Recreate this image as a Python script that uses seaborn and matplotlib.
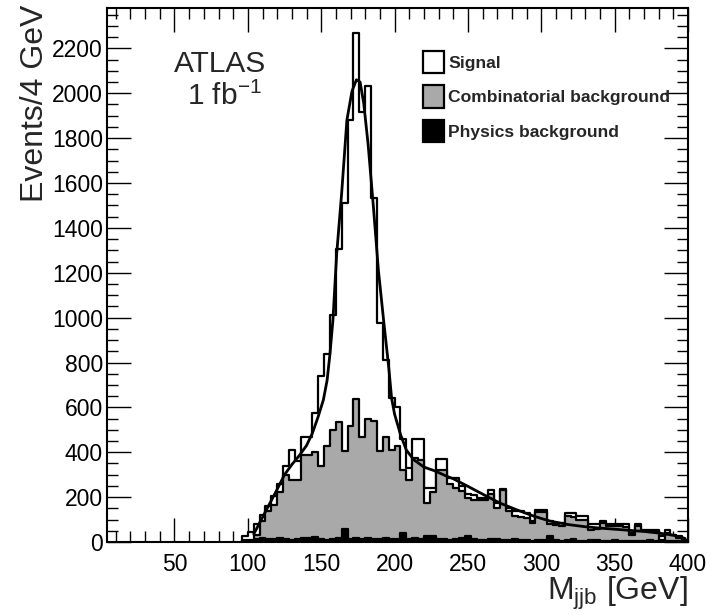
import numpy as np
import pandas as pd
import matplotlib
matplotlib.use("Agg")
import matplotlib.pyplot as plt
from matplotlib.patches import Patch
from matplotlib.ticker import MultipleLocator
import seaborn as sns

# ---------------- data ----------------
bin_edges = list(range(96, 401, 4))  # 4 GeV bins, 96..400

# total = signal + combinatorial + physics (top outline)
total = [25, 45, 80, 120, 160, 205, 260, 340, 410, 360, 470, 470, 575, 740, 840, 1012,
         1305, 1510, 1881, 2270, 1918, 2032, 1532, 975, 812, 640, 600, 458, 329, 458, 458, 241,
         240, 370, 370, 285, 285, 248, 215, 210, 195, 195, 233, 173, 236, 151, 137, 137,
         130, 93, 144, 144, 93, 85, 85, 129, 129, 115, 115, 78, 78, 93, 78, 78,
         78, 78, 38, 78, 55, 55, 55, 28, 52, 33, 25, 10]

# combinatorial + physics background (grey outline)
background = [8, 10, 30, 95, 140, 165, 225, 300, 277, 277, 389, 389, 399, 337, 430, 500,
              537, 404, 515, 637, 470, 548, 540, 404, 470, 411, 426, 321, 277, 375, 367, 173,
              225, 321, 321, 260, 241, 226, 195, 189, 189, 189, 215, 150, 230, 137, 115, 110,
              108, 85, 135, 135, 78, 75, 72, 115, 110, 100, 100, 55, 60, 85, 70, 72,
              70, 65, 33, 70, 50, 48, 50, 10, 40, 30, 20, 8]

# physics background (black)
physics = [0, 3, 12, 20, 15, 12, 18, 15, 10, 15, 20, 18, 22, 12, 10, 15,
           20, 58, 15, 20, 12, 18, 15, 12, 20, 15, 15, 40, 15, 20, 12, 25,
           25, 15, 12, 10, 12, 20, 28, 12, 8, 10, 12, 15, 10, 8, 12, 8,
           10, 6, 8, 10, 25, 8, 6, 10, 12, 6, 5, 8, 10, 6, 5, 8,
           5, 6, 4, 6, 5, 8, 4, 5, 3, 4, 3, 2]

# fit curve
fit_mass = [104, 108, 112, 116, 120, 125, 130, 135, 140, 144, 148, 151.5, 154, 156, 158,
            160.5, 164, 167.5, 171, 174, 176.5, 179, 182, 185.5, 189, 192.5, 196, 198,
            200, 204, 208, 213, 220, 227, 236, 240, 250, 261, 272, 283, 295, 306, 318,
            330, 340, 350, 360, 370, 380, 390, 398]
fit_events = [35, 85, 135, 185, 235, 300, 345, 385, 430, 485, 560, 634, 720, 840, 990,
              1280, 1560, 1880, 2010, 2060, 2050, 1955, 1770, 1500, 1210, 990, 780, 640,
              570, 480, 410, 367, 334, 318, 292, 282, 248, 210, 173, 144, 115, 93, 78,
              68, 62, 57, 52, 47, 40, 30, 16]

x_ticks = [50, 100, 150, 200, 250, 300, 350, 400]
y_ticks = list(range(0, 2201, 200))

legend_labels = ["Signal", "Combinatorial background", "Physics background"]

# ---------------- build table ----------------
centers = [(a + b) / 2 for a, b in zip(bin_edges[:-1], bin_edges[1:])]
df = pd.DataFrame({"mass": centers, "total": total, "bkg": background, "phys": physics})
fit_df = pd.DataFrame({"mass": fit_mass, "events": fit_events})

# ---------------- style ----------------
sns.set_theme(style="ticks")
plt.rcParams["font.family"] = ["Liberation Sans", "DejaVu Sans"]
plt.rcParams["mathtext.fontset"] = "custom"
plt.rcParams["mathtext.rm"] = "Liberation Sans"
plt.rcParams["mathtext.it"] = "Liberation Sans:italic"
plt.rcParams["mathtext.bf"] = "Liberation Sans:bold"

W, H = 719, 615
fig = plt.figure(figsize=(W / 100, H / 100), dpi=100)
L, R, T, B = 107, 688, 8, 542
ax = fig.add_axes([L / W, 1 - B / H, (R - L) / W, (B - T) / H])

grey = "#a9a9a9"
common = dict(bins=bin_edges, element="step", fill=True, alpha=1, linewidth=1.6,
              edgecolor="black", ax=ax, legend=False)
sns.histplot(data=df, x="mass", weights="total", color="white", **common)
sns.histplot(data=df, x="mass", weights="bkg", color=grey, **common)
sns.histplot(data=df, x="mass", weights="phys", color="black", **common)

sns.lineplot(data=fit_df, x="mass", y="events", color="black", linewidth=2.0, ax=ax)

ax.set_xlim(4, 400)
ax.set_ylim(0, 2380)
ax.set_xticks(x_ticks)
ax.set_yticks(y_ticks)
ax.xaxis.set_minor_locator(MultipleLocator(10))
ax.yaxis.set_minor_locator(MultipleLocator(50))
ax.tick_params(which="both", direction="in", top=True, right=True, colors="black",
               width=1.0)
ax.tick_params(which="major", length=17, labelsize=16.5)
ax.tick_params(which="minor", length=8)
ax.tick_params(axis="x", which="major", pad=8)
ax.tick_params(axis="y", which="major", pad=3)
for s in ax.spines.values():
    s.set_linewidth(1.5)
    s.set_color("black")

ax.set_xlabel(r"M$_{\mathrm{jjb}}$ [GeV]", fontsize=23, loc="right")
ax.xaxis.set_label_coords(1.0, -0.062)
ax.set_ylabel("Events/4 GeV", fontsize=23, loc="top")
ax.yaxis.set_label_coords(-0.098, 1.006)

ax.text((220 - L) / (R - L), (B - 64) / (B - T), "ATLAS", transform=ax.transAxes,
        ha="center", va="center", fontsize=21.5)
ax.text((224 - L) / (R - L), (B - 96) / (B - T), r"1 fb$^{\mathregular{-1}}$",
        transform=ax.transAxes, ha="center", va="center", fontsize=21.5)

handles = [Patch(facecolor="white", edgecolor="black", linewidth=1.6),
           Patch(facecolor=grey, edgecolor="black", linewidth=1.6),
           Patch(facecolor="black", edgecolor="black", linewidth=1.6)]
leg = ax.legend(handles, legend_labels, loc="upper left",
                bbox_to_anchor=((423 - L) / (R - L), (B - 51) / (B - T)),
                frameon=False, borderpad=0, borderaxespad=0,
                handlelength=1.2, handleheight=1.6, handletextpad=0.25,
                labelspacing=0.68, prop={"weight": "bold", "size": 12.6})

fig.savefig("out.png", dpi=100)
